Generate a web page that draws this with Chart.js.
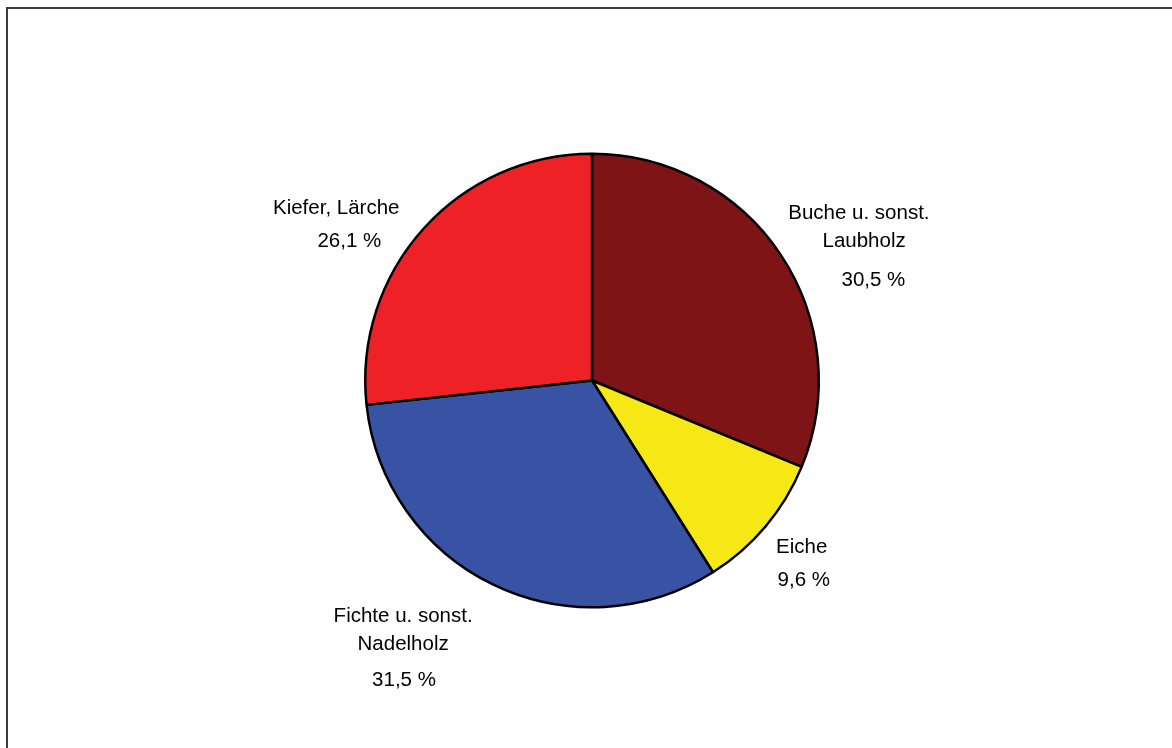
<!DOCTYPE html>
<html>
<head>
<meta charset="utf-8">
<script src="https://cdn.jsdelivr.net/npm/chart.js@4/dist/chart.umd.min.js"></script>
<style>
  html, body { margin: 0; padding: 0; background: #fff; }
  #wrap { position: relative; width: 1172px; height: 748px; overflow: hidden; }
  #frame { position: absolute; left: 6px; top: 7px; width: 1200px; height: 800px;
           border-left: 2px solid #3a3a3a; border-top: 2px solid #3a3a3a; }
  canvas { position: absolute; left: 0; top: 0; }
</style>
</head>
<body>
<div id="wrap">
  <div id="frame"></div>
  <canvas id="c" width="1172" height="748"></canvas>
</div>
<script>
// Data
const categories = [
  ["Buche u. sonst.", "Laubholz"],
  ["Eiche"],
  ["Fichte u. sonst.", "Nadelholz"],
  ["Kiefer, Lärche"]
];
const shares = [30.5, 9.6, 31.5, 26.1];
const valueLabels = ["30,5 %", "9,6 %", "31,5 %", "26,1 %"];
const sliceColors = ["#7e1416", "#f5e814", "#3953a4", "#ed2126"];

// Label placement, relative to pie center in units of outer radius:
// each entry: list of [fx, fy] for each text line (name lines then value line)
const labelLayout = [
  [[1.177, -0.739], [1.200, -0.612], [1.241, -0.441]],
  [[0.925, 0.738], [0.934, 0.882]],
  [[-0.833, 1.038], [-0.833, 1.165], [-0.829, 1.323]],
  [[-1.128, -0.761], [-1.070, -0.612]]
];

const labelPlugin = {
  id: 'sliceLabels',
  afterDatasetsDraw(chart) {
    const ctx = chart.ctx;
    const meta = chart.getDatasetMeta(0);
    ctx.save();
    ctx.font = '20.5px "Liberation Sans", Arial, sans-serif';
    ctx.fillStyle = '#000';
    ctx.textAlign = 'center';
    ctx.textBaseline = 'middle';
    meta.data.forEach((arc, i) => {
      const p = arc.getProps(['x', 'y', 'outerRadius'], true);
      const lines = categories[i].concat([valueLabels[i]]);
      const pos = labelLayout[i];
      lines.forEach((t, k) => {
        ctx.fillText(t, p.x + pos[k][0] * p.outerRadius, p.y + pos[k][1] * p.outerRadius);
      });
    });
    ctx.restore();
  }
};

new Chart(document.getElementById('c'), {
  type: 'pie',
  data: {
    labels: categories.map(c => c.join(' ')),
    datasets: [{
      data: shares,
      backgroundColor: sliceColors,
      borderColor: '#000',
      borderWidth: 2.5
    }]
  },
  options: {
    responsive: false,
    animation: false,
    layout: { padding: { left: 364, right: 352, top: 152, bottom: 139 } },
    plugins: { legend: { display: false }, tooltip: { enabled: false } }
  },
  plugins: [labelPlugin]
});
</script>
</body>
</html>
